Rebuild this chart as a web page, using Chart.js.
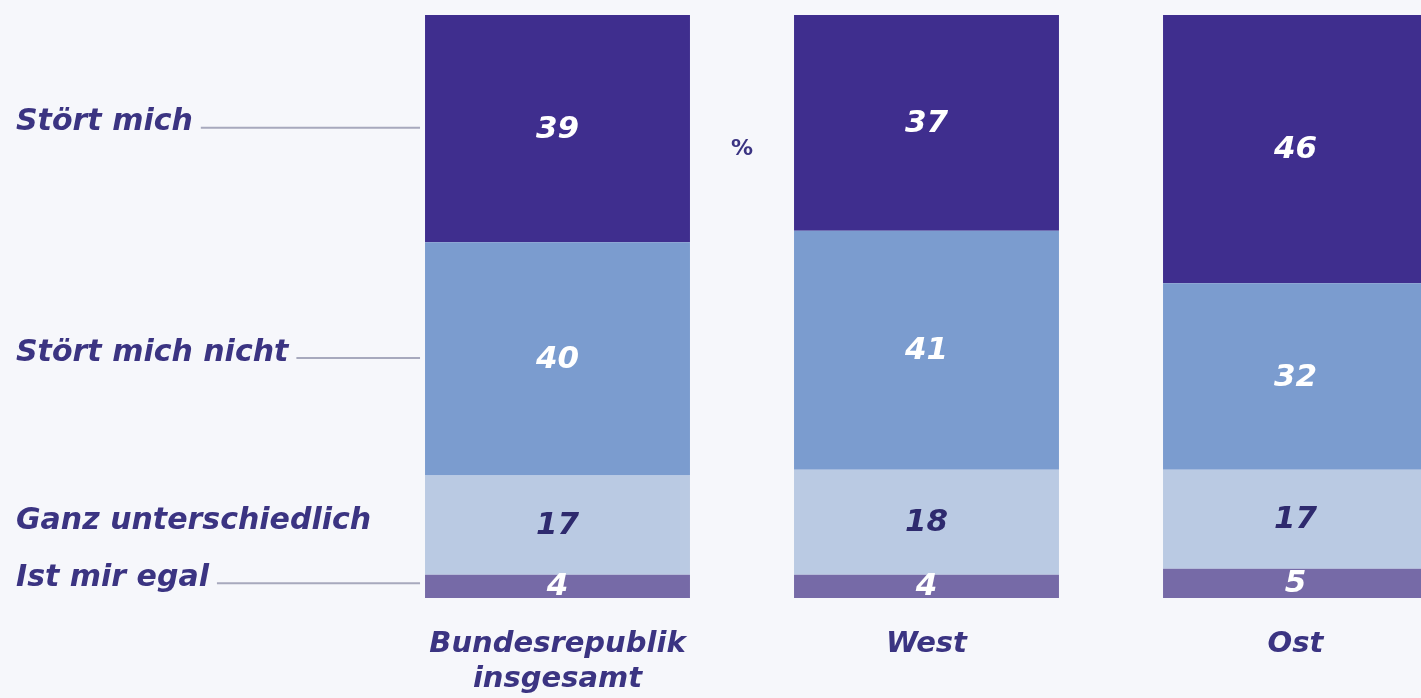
<!DOCTYPE html>
<html>
<head>
<meta charset="utf-8">
<script src="https://cdn.jsdelivr.net/npm/chart.js@4"></script>
<style>
  html, body { margin: 0; padding: 0; background: #f6f7fb; overflow: hidden; }
  #wrap { position: relative; width: 1500px; height: 698px; }
</style>
</head>
<body>
<div id="wrap"><canvas id="c"></canvas></div>
<script>
const categories = [["Bundesrepublik", "insgesamt"], "West", "Ost"];
const seriesNames = ["Stört mich", "Stört mich nicht", "Ganz unterschiedlich", "Ist mir egal"];
const stoertMich = [39, 37, 46];
const stoertMichNicht = [40, 41, 32];
const ganzUnterschiedlich = [17, 18, 17];
const istMirEgal = [4, 4, 5];
const yMin = 0, yMax = 100;
const unitLabel = "%";

const textColor = "#3b3482";
const fontFamily = "'DejaVu Sans', sans-serif";

// stacked bottom-to-top order
const datasets = [
  { label: seriesNames[3], data: istMirEgal, backgroundColor: "#766aa7", labelColor: "#ffffff", leader: true },
  { label: seriesNames[2], data: ganzUnterschiedlich, backgroundColor: "#bacae3", labelColor: "#2e2a6e", leader: false },
  { label: seriesNames[1], data: stoertMichNicht, backgroundColor: "#7b9ccf", labelColor: "#ffffff", leader: true },
  { label: seriesNames[0], data: stoertMich, backgroundColor: "#3f2e8e", labelColor: "#ffffff", leader: true }
];

const annotate = {
  id: "annotate",
  afterDatasetsDraw(chart) {
    const ctx = chart.ctx;
    ctx.save();
    // value labels inside segments
    ctx.font = "italic bold 31px " + fontFamily;
    ctx.textAlign = "center";
    ctx.textBaseline = "middle";
    chart.data.datasets.forEach((ds, di) => {
      const meta = chart.getDatasetMeta(di);
      meta.data.forEach((bar, i) => {
        const p = bar.getProps(["x", "y", "base"], true);
        ctx.fillStyle = ds.labelColor;
        ctx.fillText(String(ds.data[i]), p.x, (p.y + p.base) / 2 + 1);
      });
    });
    // left-side series labels with leader lines, aligned to first bar
    ctx.font = "italic bold 30px " + fontFamily;
    ctx.textAlign = "left";
    const textX = 16;
    chart.data.datasets.forEach((ds, di) => {
      const bar = chart.getDatasetMeta(di).data[0];
      const p = bar.getProps(["x", "y", "base", "width"], true);
      let y = (p.y + p.base) / 2;
      if (di === 0) y -= 8;
      if (di === 1) y -= 4;
      if (di === 2) y -= 6;
      if (di === 3) y -= 6;
      ctx.fillStyle = textColor;
      ctx.fillText(ds.label, textX, y);
      if (ds.leader) {
        const w = ctx.measureText(ds.label).width;
        ctx.strokeStyle = "#a7a9bd";
        ctx.lineWidth = 2;
        ctx.beginPath();
        ctx.moveTo(textX + w + 8, y + 5);
        ctx.lineTo(p.x - p.width / 2 - 5, y + 5);
        ctx.stroke();
      }
    });
    // unit sign between first and second bar
    const xs = chart.scales.x, ys = chart.scales.y;
    ctx.font = "bold 22px " + fontFamily;
    ctx.textAlign = "center";
    ctx.fillStyle = textColor;
    ctx.fillText(unitLabel, (xs.getPixelForValue(0) + xs.getPixelForValue(1)) / 2, ys.getPixelForValue(77));
    ctx.restore();
  }
};

new Chart(document.getElementById("c"), {
  type: "bar",
  data: { labels: categories, datasets },
  options: {
    responsive: true,
    maintainAspectRatio: false,
    animation: false,
    layout: { padding: { left: 373, right: 20, top: 15, bottom: 0 } },
    datasets: { bar: { barPercentage: 0.718, categoryPercentage: 1.0, borderWidth: 0 } },
    plugins: { legend: { display: false }, tooltip: { enabled: false } },
    scales: {
      x: {
        stacked: true,
        grid: { display: false, drawTicks: false },
        border: { display: false },
        afterFit(scale) { scale.height = 100; },
        ticks: {
          color: textColor,
          padding: 29,
          font: { family: fontFamily, size: 29, style: "italic", weight: "bold", lineHeight: 1.2 }
        }
      },
      y: {
        stacked: true,
        display: false,
        min: yMin,
        max: yMax
      }
    }
  },
  plugins: [annotate]
});
</script>
</body>
</html>
